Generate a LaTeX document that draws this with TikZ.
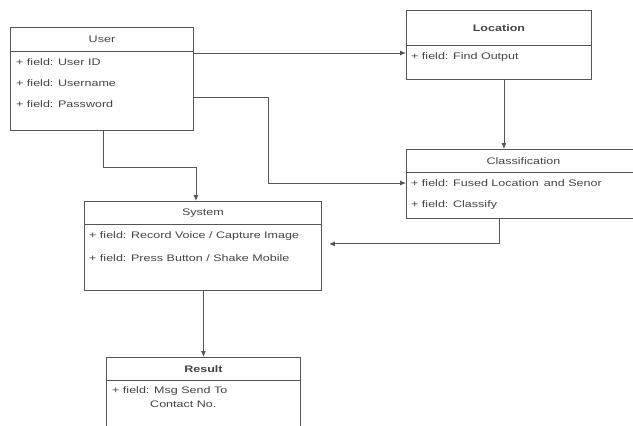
\documentclass[tikz,border=0pt]{standalone}
\usepackage{fontspec}
\setmainfont{Liberation Sans}[FakeStretch=1.32]
\usetikzlibrary{arrows.meta}
\definecolor{ln}{HTML}{555555}
\definecolor{tx}{HTML}{444444}
\tikzset{
  box/.style={draw=ln, line width=0.9pt, rectangle, inner sep=0pt, anchor=north west},
  ttl/.style={box, font=\fontsize{9.5}{11}\selectfont, text=tx},
  fld/.style={anchor=west, inner sep=0pt, font=\fontsize{9.5}{11}\selectfont, text=tx},
  conn/.style={draw=ln, line width=0.9pt},
  arr/.style={conn, -{Latex[length=6pt,width=5pt]}}
}
\begin{document}
\begin{tikzpicture}[x=1pt,y=-1pt]
\useasboundingbox[fill=white] (0,0) rectangle (633,426);
% User
\node[ttl, minimum width=183, minimum height=24] (userT) at (10,27) {User};
\node[box, minimum width=183, minimum height=79] (userB) at (10,51) {};
\node[fld] (u1) at (16,62) {+ field: User ID};
\node[fld] (u2) at (16,83) {+ field: Username};
\node[fld] (u3) at (16,104) {+ field: Password};
% Location
\node[ttl, minimum width=185, minimum height=35, font=\fontsize{9.5}{11}\selectfont\bfseries] (locT) at (406,10) {Location};
\node[box, minimum width=185, minimum height=34] (locB) at (406,45) {};
\node[fld] (l1) at (411,57) {+ field: Find Output};
% Classification
\node[ttl, minimum width=234, minimum height=23] (clsT) at (406,149) {Classification};
\node[box, minimum width=234, minimum height=46] (clsB) at (406,172) {};
\node[fld] (c1) at (411,183) {+ field: Fused Location\, and Senor};
\node[fld] (c2) at (411,205) {+ field: Classify};
% System
\node[ttl, minimum width=237, minimum height=23] (sysT) at (84,201) {System};
\node[box, minimum width=237, minimum height=66] (sysB) at (84,224) {};
\node[fld] (s1) at (89,236) {+ field: Record Voice / Capture Image};
\node[fld] (s2) at (89,258) {+ field: Press Button / Shake Mobile};
% Result
\node[ttl, minimum width=194, minimum height=23, font=\fontsize{9.5}{11}\selectfont\bfseries] (resT) at (106,357) {Result};
\node[box, minimum width=194, minimum height=60] (resB) at (106,380) {};
\node[fld] (r1) at (112,391) {+ field: Msg Send To};
\node[fld] (r2) at (150,404) {Contact No.};
% connectors
\draw[arr] ([yshift=-2pt]userB.north east) -- ([yshift=-8pt]locB.north west);
\draw[arr] ([yshift=-46pt]userB.north east) -- ++(75,0) |- ([yshift=-11pt]clsB.north west);
\draw[conn] ([xshift=1.5pt]userB.south) -- ++(0,37) coordinate (k1);
\draw[arr] (k1) -| ([xshift=-7pt]sysT.north);
\draw[arr] ([xshift=5pt]locB.south) -- ([xshift=5pt]locB.south |- clsT.north);
\draw[conn] ([xshift=-24pt]clsB.south) -- ++(0,25) coordinate (c3);
\draw[arr] (c3) -- ([xshift=7pt]c3 -| sysB.east);
\draw[arr] ([xshift=0.5pt]sysB.south) -- ([xshift=0.5pt]sysB.south |- resT.north);
\end{tikzpicture}
\end{document}
